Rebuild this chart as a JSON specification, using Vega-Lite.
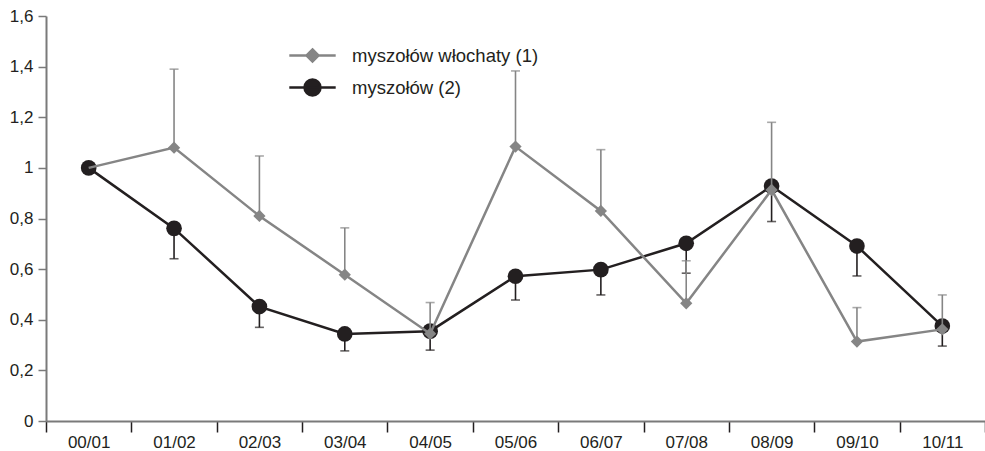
{
  "$schema": "https://vega.github.io/schema/vega-lite/v6.json",
  "width": 939,
  "height": 405,
  "autosize": {"type": "none"},
  "padding": {"left": 46, "top": 16, "right": 0, "bottom": 30},
  "background": "white",
  "config": {
    "view": {"stroke": null},
    "font": "Liberation Sans"
  },
  "data": {
    "values": [
      {"okres": "00/01", "seria": "myszołów włochaty (1)", "wartosc": 1.0, "granica": null},
      {"okres": "01/02", "seria": "myszołów włochaty (1)", "wartosc": 1.08, "granica": 1.39},
      {"okres": "02/03", "seria": "myszołów włochaty (1)", "wartosc": 0.81, "granica": 1.047},
      {"okres": "03/04", "seria": "myszołów włochaty (1)", "wartosc": 0.578, "granica": 0.763},
      {"okres": "04/05", "seria": "myszołów włochaty (1)", "wartosc": 0.345, "granica": 0.468},
      {"okres": "05/06", "seria": "myszołów włochaty (1)", "wartosc": 1.084, "granica": 1.383},
      {"okres": "06/07", "seria": "myszołów włochaty (1)", "wartosc": 0.83, "granica": 1.072},
      {"okres": "07/08", "seria": "myszołów włochaty (1)", "wartosc": 0.465, "granica": 0.633},
      {"okres": "08/09", "seria": "myszołów włochaty (1)", "wartosc": 0.913, "granica": 1.18},
      {"okres": "09/10", "seria": "myszołów włochaty (1)", "wartosc": 0.314, "granica": 0.448},
      {"okres": "10/11", "seria": "myszołów włochaty (1)", "wartosc": 0.362, "granica": 0.498},
      {"okres": "00/01", "seria": "myszołów (2)", "wartosc": 1.0, "granica": null},
      {"okres": "01/02", "seria": "myszołów (2)", "wartosc": 0.761, "granica": 0.641},
      {"okres": "02/03", "seria": "myszołów (2)", "wartosc": 0.452, "granica": 0.37},
      {"okres": "03/04", "seria": "myszołów (2)", "wartosc": 0.344, "granica": 0.277},
      {"okres": "04/05", "seria": "myszołów (2)", "wartosc": 0.355, "granica": 0.28},
      {"okres": "05/06", "seria": "myszołów (2)", "wartosc": 0.572, "granica": 0.478},
      {"okres": "06/07", "seria": "myszołów (2)", "wartosc": 0.598, "granica": 0.498},
      {"okres": "07/08", "seria": "myszołów (2)", "wartosc": 0.702, "granica": 0.584},
      {"okres": "08/09", "seria": "myszołów (2)", "wartosc": 0.928, "granica": 0.788},
      {"okres": "09/10", "seria": "myszołów (2)", "wartosc": 0.691, "granica": 0.573},
      {"okres": "10/11", "seria": "myszołów (2)", "wartosc": 0.375, "granica": 0.296}
    ]
  },
  "encoding": {
    "x": {
      "field": "okres",
      "type": "nominal",
      "sort": ["00/01", "01/02", "02/03", "03/04", "04/05", "05/06", "06/07", "07/08", "08/09", "09/10", "10/11"],
      "title": null,
      "scale": {"type": "band", "paddingInner": 0, "paddingOuter": 0},
      "axis": {
        "tickBand": "extent",
        "labelAngle": 0,
        "labelFontSize": 17,
        "labelColor": "#231f20",
        "labelPadding": 2,
        "tickSize": 11,
        "tickColor": "#231f20",
        "tickWidth": 1.5,
        "domainColor": "#7a7a7a",
        "domainWidth": 2,
        "grid": false
      }
    },
    "y": {
      "type": "quantitative",
      "title": null,
      "scale": {"domain": [0, 1.6], "nice": false},
      "axis": {
        "values": [0, 0.2, 0.4, 0.6, 0.8, 1, 1.2, 1.4, 1.6],
        "labelExpr": "replace(format(datum.value, '.1~f'), '.', ',')",
        "labelFontSize": 17,
        "labelColor": "#231f20",
        "labelPadding": 5,
        "tickSize": 8,
        "tickColor": "#7a7a7a",
        "tickWidth": 1.5,
        "domainColor": "#7a7a7a",
        "domainWidth": 2,
        "grid": false
      }
    },
    "color": {
      "field": "seria",
      "type": "nominal",
      "sort": null,
      "title": null,
      "scale": {
        "domain": ["myszołów włochaty (1)", "myszołów (2)"],
        "range": ["#858585", "#231f20"]
      },
      "legend": {
        "orient": "none",
        "legendX": 257,
        "legendY": 30,
        "padding": 0,
        "rowPadding": 7,
        "labelFontSize": 18.5,
        "labelLimit": 300,
        "labelColor": "#231f20",
        "labelOffset": 30,
        "symbolSize": 256,
        "encode": {
          "symbols": {
            "update": {
              "shape": {"signal": "datum.value === 'myszołów (2)' ? 'M-2.9,0H2.9M1,0A1,1 0 1,1 -1,0A1,1 0 1,1 1,0Z' : 'M-2.9,0H2.9M0,-0.75L0.75,0L0,0.75L-0.75,0Z'"},
              "fill": {"signal": "datum.value === 'myszołów (2)' ? '#231f20' : '#858585'"},
              "stroke": {"signal": "datum.value === 'myszołów (2)' ? '#231f20' : '#858585'"},
              "strokeWidth": {"value": 2.5},
              "size": {"value": 256},
              "opacity": {"value": 1},
              "fillOpacity": {"value": 1},
              "strokeOpacity": {"value": 1}
            }
          }
        }
      }
    }
  },
  "layer": [
    {
      "transform": [{"filter": "datum.seria === 'myszołów (2)' && datum.granica != null"}],
      "mark": {"type": "rule", "strokeWidth": 1.6},
      "encoding": {"y": {"field": "wartosc"}, "y2": {"field": "granica"}}
    },
    {
      "transform": [{"filter": "datum.seria === 'myszołów (2)' && datum.granica != null"}],
      "mark": {"type": "tick", "size": 9, "thickness": 1.6},
      "encoding": {"y": {"field": "granica"}}
    },
    {
      "transform": [{"filter": "datum.seria === 'myszołów (2)'"}],
      "mark": {"type": "line", "strokeWidth": 2.5},
      "encoding": {"y": {"field": "wartosc"}}
    },
    {
      "transform": [{"filter": "datum.seria === 'myszołów (2)'"}],
      "mark": {"type": "point", "shape": "circle", "filled": true, "size": 245, "opacity": 1},
      "encoding": {"y": {"field": "wartosc"}}
    },
    {
      "transform": [{"filter": "datum.seria === 'myszołów włochaty (1)' && datum.granica != null"}],
      "mark": {"type": "rule", "strokeWidth": 1.6},
      "encoding": {"y": {"field": "wartosc"}, "y2": {"field": "granica"}}
    },
    {
      "transform": [{"filter": "datum.seria === 'myszołów włochaty (1)' && datum.granica != null"}],
      "mark": {"type": "tick", "size": 9, "thickness": 1.6},
      "encoding": {"y": {"field": "granica"}}
    },
    {
      "transform": [{"filter": "datum.seria === 'myszołów włochaty (1)'"}],
      "mark": {"type": "line", "strokeWidth": 2.5},
      "encoding": {"y": {"field": "wartosc"}}
    },
    {
      "transform": [{"filter": "datum.seria === 'myszołów włochaty (1)' && datum.okres !== '00/01'"}],
      "mark": {"type": "point", "shape": "diamond", "filled": true, "size": 150, "opacity": 1},
      "encoding": {"y": {"field": "wartosc"}}
    }
  ]
}
